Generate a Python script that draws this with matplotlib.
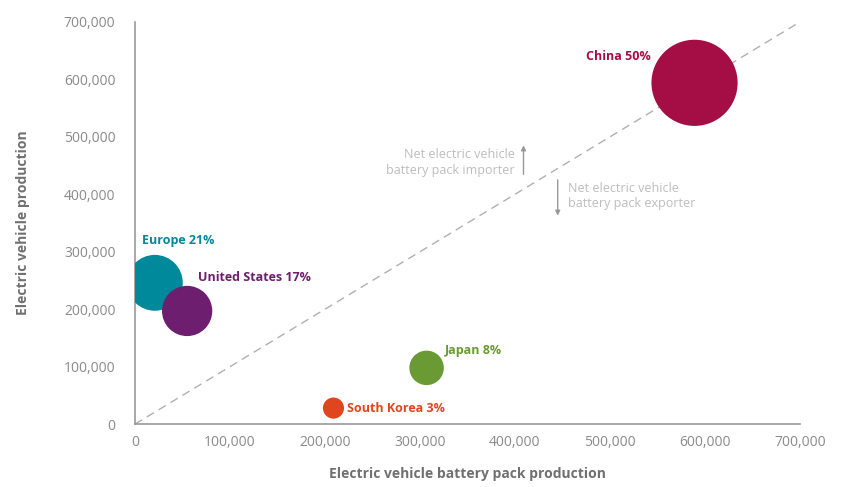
import matplotlib
matplotlib.use("Agg")
import matplotlib.pyplot as plt
from matplotlib.ticker import FuncFormatter

regions = ["China", "Europe", "United States", "Japan", "South Korea"]
battery_packs = [589000, 21000, 55000, 307000, 209000]
ev_production = [594000, 246000, 197000, 98000, 28000]
shares = [50, 21, 17, 8, 3]
colors = ["#A50D45", "#00899B", "#6E1E6E", "#6A9A33", "#E0461E"]
ticks = [0, 100000, 200000, 300000, 400000, 500000, 600000, 700000]

plt.rcParams['font.family'] = ['Open Sans', 'DejaVu Sans']

fig = plt.figure(figsize=(8.43, 4.87), dpi=100)
ax = fig.add_axes([0.160, 0.129, 0.789, 0.826])

ax.plot([0, 700000], [0, 700000], ls=(0, (6, 4)), color="#b0b0b0", lw=1.0, zorder=1)

sizes = [77 * s for s in shares]
ax.scatter(battery_packs, ev_production, s=sizes, c=colors, zorder=3, linewidths=0)

label_pos = [
    (543000, 639000, "right"),
    (7000, 319000, "left"),
    (66000, 256000, "left"),
    (326000, 129000, "left"),
    (223000, 28000, "left"),
]
for name, s, c, (lx, ly, ha) in zip(regions, shares, colors, label_pos):
    ax.text(lx, ly, f"{name} {s}%", color=c, fontsize=9, fontweight="bold",
            ha=ha, va="center", zorder=4)

note_color = "#bdbdbd"
ax.text(400000, 455000, "Net electric vehicle\nbattery pack importer", color=note_color,
        fontsize=9, ha="right", va="center", linespacing=1.25)
ax.annotate("", xy=(409000, 490000), xytext=(409000, 430000),
            arrowprops=dict(arrowstyle="-|>", color="#999999", lw=1, mutation_scale=7))
ax.text(456000, 397000, "Net electric vehicle\nbattery pack exporter", color=note_color,
        fontsize=9, ha="left", va="center", linespacing=1.25)
ax.annotate("", xy=(445000, 358000), xytext=(445000, 430000),
            arrowprops=dict(arrowstyle="-|>", color="#999999", lw=1, mutation_scale=7))

ax.set_xlim(0, 700000)
ax.set_ylim(0, 700000)
ax.set_xticks(ticks)
ax.set_yticks(ticks)
fmt = FuncFormatter(lambda v, p: f"{int(v):,}")
ax.xaxis.set_major_formatter(fmt)
ax.yaxis.set_major_formatter(fmt)
ax.tick_params(length=0, colors="#8a8a8a", labelsize=10)
ax.tick_params(axis="y", pad=14)
ax.tick_params(axis="x", pad=8)

for side in ["top", "right"]:
    ax.spines[side].set_visible(False)
for side in ["left", "bottom"]:
    ax.spines[side].set_color("#999999")
    ax.spines[side].set_linewidth(1.2)

ax.set_xlabel("Electric vehicle battery pack production", color="#707070",
              fontsize=10, fontweight="bold", labelpad=12)
ax.set_ylabel("Electric vehicle production", color="#707070",
              fontsize=10, fontweight="bold", labelpad=24)
ax.patch.set_visible(False)

fig.savefig("out.png", dpi=100)
